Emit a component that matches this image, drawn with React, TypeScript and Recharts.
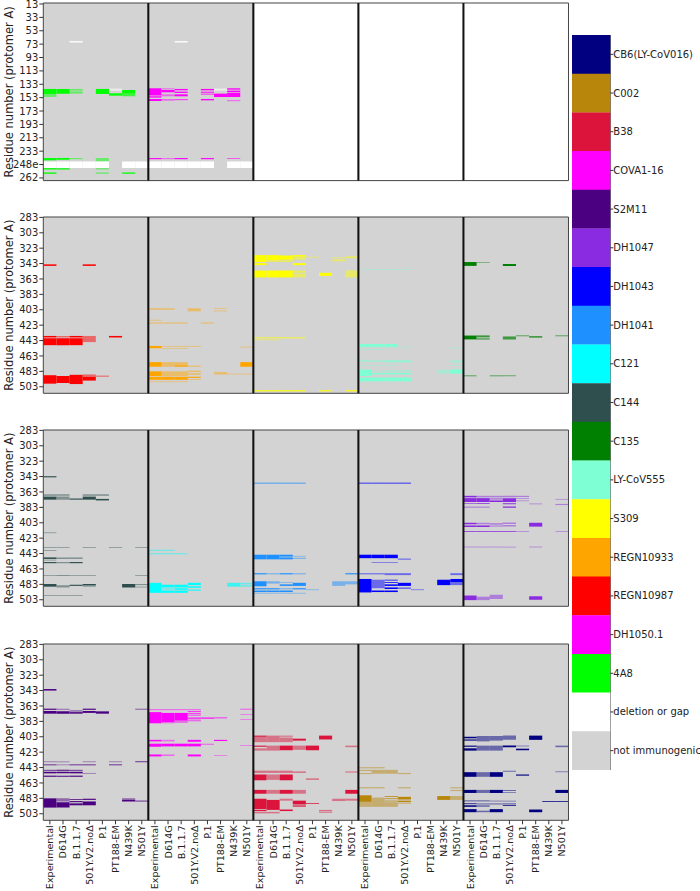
import React from 'react';
import { ComposedChart, BarChart, Bar, Cell, XAxis, YAxis, ReferenceArea, ReferenceLine } from 'recharts';

const FONT = '"DejaVu Sans", sans-serif';

const VARIANTS = ['Experimental', 'D614G', 'B.1.1.7', '501Y.V2.noΔ', 'P.1', 'PT188-EM', 'N439K', 'N501Y'];

// NTD rows are indexed by position; labels follow the protomer numbering
const NTD_TICKS = [13, 33, 53, 73, 93, 113, 133, 153, 173, 193, 213, 233, 253, 273];
const NTD_TICK_LABELS = ['13', '33', '53', '73', '93', '113', '133', '153', '173', '193', '213', '233', '248e', '262'];
const RBD_TICKS = [283, 303, 323, 343, 363, 383, 403, 423, 443, 463, 483, 503];

const LEGEND_NAMES = ['CB6(LY-CoV016)', 'C002', 'B38', 'COVA1-16', 'S2M11', 'DH1047', 'DH1043', 'DH1041', 'C121', 'C144', 'C135', 'LY-CoV555', 'S309', 'REGN10933', 'REGN10987', 'DH1050.1', '4A8', 'deletion or gap', 'not immunogenic'];
const LEGEND_COLORS = ['#000080', '#b8860b', '#dc143c', '#ff00ff', '#4b0082', '#8a2be2', '#0000ff', '#1e90ff', '#00ffff', '#2f4f4f', '#008000', '#7fffd4', '#ffff00', '#ffa500', '#ff0000', '#ff00ff', '#00ff00', '#ffffff', '#d3d3d3'];

// [variant column, from residue, to residue, level]
const GAP_NTD = [
  [2, 68.5, 70.5, 1], [0, 248.4, 258.2, 1], [1, 248.4, 258.2, 1], [2, 248.4, 258.2, 1], [3, 248.4, 258.2, 1],
  [4, 248.4, 258.2, 1], [6, 248.4, 258.2, 1], [7, 248.4, 258.2, 1], [5, 139.5, 142.5, 0.6],
];

const SEG_4A8 = [
  [0, 140, 147.5, 1], [0, 147.5, 152, 0.5], [0, 243.3, 246.7, 1], [0, 258.4, 260.4, 1], [0, 264.8, 266.8, 1],
  [1, 140, 147, 1], [1, 243.3, 246, 1], [1, 258.4, 260.4, 1],
  [2, 140, 142.5, 0.5], [2, 143.5, 147, 0.5], [2, 243.3, 245, 0.5],
  [4, 140, 147.5, 1], [4, 243.3, 248.3, 0.5], [4, 258.4, 260.4, 0.5], [4, 264.8, 266.8, 0.5],
  [5, 146.5, 150, 1],
  [6, 141.5, 147, 1], [6, 147.5, 151, 0.7], [6, 265, 266.8, 1],
];

const SEG_DH1050 = [
  [0, 139, 149, 1], [0, 149, 151, 0.5], [0, 151, 153, 1], [0, 155, 158, 1], [0, 243.3, 245, 1],
  [1, 139, 140.5, 0.5], [1, 141.5, 145, 1], [1, 148, 151, 0.5], [1, 155, 157.5, 0.5], [1, 243.3, 245, 0.5],
  [2, 140, 142, 1], [2, 144, 146, 1], [2, 148, 151, 1], [2, 155.5, 156.7, 1], [2, 243.3, 245, 1],
  [4, 140, 142, 1], [4, 143, 144, 0.5], [4, 145, 146.5, 1], [4, 147.5, 149, 0.5], [4, 155, 157, 1], [4, 243.3, 245, 1],
  [5, 147, 152, 1],
  [6, 139, 141, 1], [6, 142.5, 145, 1], [6, 146, 152, 1], [6, 157, 158.2, 0.7], [6, 243.3, 244.5, 0.7],
];

const SEG_REGN10987 = [
  [0, 344, 346, 1], [0, 437, 439, 1], [0, 440, 449, 1], [0, 488, 499, 1],
  [1, 437, 439, 0.5], [1, 440, 449, 1], [1, 489, 498, 1],
  [2, 437, 439, 1], [2, 440, 449, 1], [2, 487.5, 499.5, 1],
  [3, 344, 346, 1], [3, 437, 445, 0.5], [3, 487, 490, 0.5], [3, 490, 495, 1],
  [4, 488.5, 490, 0.5],
  [5, 437, 439, 1],
];

const SEG_REGN10933 = [
  [0, 401, 403, 0.5], [0, 416, 417, 0.5], [0, 419.5, 421, 0.5], [0, 450, 453, 1], [0, 471, 477, 1], [0, 483, 489, 1], [0, 490, 494, 1], [0, 496, 497, 0.5],
  [1, 401, 403, 0.5], [1, 419.5, 421, 0.5], [1, 450, 451, 0.5], [1, 453, 454, 0.5], [1, 471, 477, 0.5], [1, 483, 489, 0.5], [1, 490, 494, 1], [1, 496, 497, 0.5],
  [2, 419.5, 421, 0.5], [2, 450, 451, 0.5], [2, 453, 454, 0.5], [2, 471, 475, 0.5], [2, 475, 477, 1], [2, 483, 489, 0.5], [2, 490, 494, 1], [2, 496, 497, 0.5],
  [3, 401, 405, 0.5], [3, 450, 451, 0.5], [3, 475.5, 477, 0.5], [3, 482, 484, 0.5], [3, 486, 487, 1], [3, 490, 491.5, 1], [3, 493, 494, 0.5],
  [4, 419.5, 421, 0.5],
  [5, 401, 402, 0.5], [5, 404, 405, 0.5], [5, 484, 487, 0.5],
  [6, 486, 487, 0.5],
  [7, 451, 452, 0.5], [7, 471, 477, 1], [7, 486, 487, 0.5],
];

const SEG_S309 = [
  [0, 332, 341, 1], [0, 342.5, 345, 1], [0, 352, 361, 1], [0, 439, 440, 1], [0, 441.5, 442.5, 0.5], [0, 507.5, 509, 1],
  [1, 332, 339, 1], [1, 339.5, 341, 0.5], [1, 352, 361, 1], [1, 439, 440, 1], [1, 441.5, 442.5, 0.5], [1, 507.5, 509, 1],
  [2, 332.5, 338, 1], [2, 338.5, 341, 0.5], [2, 352, 361, 1], [2, 439, 440, 1], [2, 507.5, 509, 1],
  [3, 332, 334, 1], [3, 334.5, 338, 0.5], [3, 342.5, 345, 1], [3, 352, 355, 0.5], [3, 356, 361, 0.5], [3, 439, 440, 1], [3, 507.5, 509, 1],
  [4, 334, 335, 0.5],
  [5, 355, 359, 1], [5, 507.5, 509, 1],
  [6, 335, 336, 0.5], [6, 337.5, 340, 0.5],
  [7, 333.5, 336, 0.5], [7, 352, 361, 0.5], [7, 507.5, 509, 1],
];

const SEG_LYCOV555 = [
  [0, 350, 351, 0.5], [0, 447.5, 451, 1], [0, 451, 452, 0.5], [0, 454, 455, 0.5], [0, 468, 471, 0.5], [0, 475, 476, 0.5], [0, 480.5, 489, 1], [0, 491, 496, 1],
  [1, 350, 351, 0.5], [1, 447.5, 451, 1], [1, 451, 452, 0.5], [1, 454, 455, 0.5], [1, 468.5, 471, 0.5], [1, 475, 476, 0.5], [1, 482, 483, 0.5], [1, 485, 487, 1], [1, 491, 496, 1],
  [2, 350, 351, 0.5], [2, 447.5, 451, 1], [2, 451, 452, 0.5], [2, 468.5, 471.5, 0.7], [2, 475, 476, 0.5], [2, 482, 483, 1], [2, 485, 487, 1], [2, 491, 496, 1],
  [3, 350, 351, 0.5], [3, 451, 452, 0.5], [3, 468.5, 471.5, 0.7], [3, 482, 483, 1], [3, 485, 487, 1], [3, 491, 496, 1],
  [6, 481, 486, 0.5],
  [7, 452, 453, 0.5], [7, 468.5, 471.5, 0.5], [7, 475, 476, 0.5], [7, 480.5, 486, 1],
];

const SEG_C135 = [
  [0, 341, 346, 1], [0, 436.5, 441.5, 1], [0, 488, 489.5, 0.5],
  [1, 341, 342, 0.5], [1, 436.5, 438, 1], [1, 439, 440, 0.5], [1, 440.5, 441.5, 1],
  [2, 488, 489.5, 0.5],
  [3, 343.5, 346, 1], [3, 437, 438, 0.5], [3, 438.5, 441.5, 0.7], [3, 488, 489.5, 0.5],
  [4, 436, 437.5, 0.5],
  [5, 437.5, 439, 1],
  [7, 436, 437.5, 0.5],
];

const SEG_C144 = [
  [0, 342.5, 344, 1], [0, 366, 368, 0.5], [0, 369, 373, 1], [0, 415.5, 416.5, 0.5], [0, 434.5, 435.5, 0.5], [0, 438.5, 439.5, 0.5], [0, 448, 450, 1], [0, 451, 452, 0.5], [0, 454, 455.5, 1], [0, 471, 472, 0.5], [0, 482.5, 486, 1], [0, 497, 498, 0.5],
  [1, 366, 368, 0.5], [1, 369, 373, 0.5], [1, 434.5, 435.5, 0.5], [1, 448, 450, 0.5], [1, 454, 455.5, 0.5], [1, 471, 472, 0.5], [1, 484, 487, 0.5], [1, 497, 498, 0.5],
  [2, 371.5, 373, 1], [2, 448, 450, 0.5], [2, 454, 455.5, 1], [2, 471, 472, 0.5], [2, 483.5, 485, 1], [2, 497, 498, 0.5],
  [3, 366, 368, 0.5], [3, 369, 373, 1], [3, 434.5, 435.5, 0.5], [3, 471, 472, 0.5], [3, 482.5, 484.5, 1], [3, 485, 486, 0.5],
  [4, 366, 368, 0.5], [4, 372, 374, 1],
  [5, 434.5, 435.5, 0.5],
  [6, 482.5, 487, 1],
  [7, 434.5, 435.5, 0.5], [7, 471, 472, 0.5], [7, 482.5, 484, 0.5], [7, 486, 487, 0.5],
];

const SEG_C121 = [
  [0, 438, 439.5, 0.5], [0, 442.5, 444, 0.5], [0, 481, 494, 1],
  [1, 438, 439.5, 0.5], [1, 442.5, 444, 0.5], [1, 483.5, 487, 1], [1, 488, 490, 0.5], [1, 491, 494, 1],
  [2, 442.5, 444, 0.5], [2, 483.5, 487, 1], [2, 488, 490, 1], [2, 491, 494, 1],
  [3, 481, 484, 1], [3, 485.5, 487.5, 1], [3, 489.5, 491.5, 0.7],
  [6, 481, 486, 0.7],
  [7, 481, 483, 0.5], [7, 484, 486, 0.5],
];

const SEG_DH1041 = [
  [0, 351, 352, 1], [0, 444.5, 450.5, 1], [0, 468.5, 470, 1], [0, 479, 485.5, 1], [0, 488, 489.5, 1], [0, 491, 493, 1], [0, 494, 495, 0.5],
  [1, 351, 352, 1], [1, 444.5, 450.5, 1], [1, 468.5, 470, 0.5], [1, 479, 482, 0.5], [1, 488, 489.5, 1], [1, 491, 493, 1], [1, 494, 495, 0.5],
  [2, 351, 352, 1], [2, 444.5, 447, 1], [2, 448, 450.5, 1], [2, 468.5, 470, 1], [2, 480, 481, 0.5], [2, 483, 485, 1], [2, 488, 489.5, 0.5], [2, 491, 493, 1], [2, 494, 495, 0.5],
  [3, 351, 352, 1], [3, 446, 447, 0.5], [3, 448.5, 450, 0.5], [3, 468.5, 470, 0.5], [3, 481, 485, 1], [3, 488, 489.5, 1], [3, 494, 495, 0.5],
  [4, 489.5, 490.5, 0.5],
  [6, 479, 485, 0.5],
  [7, 468.5, 470, 1], [7, 479, 483, 0.5],
];

const SEG_DH1043 = [
  [0, 351, 352, 1], [0, 444.5, 449, 1], [0, 468.5, 470, 0.5], [0, 476, 493.5, 1],
  [1, 351, 352, 1], [1, 444.5, 449, 1], [1, 454, 455, 0.5], [1, 468.5, 470, 0.5], [1, 477, 488, 0.5], [1, 491, 493, 1],
  [2, 351, 352, 1], [2, 444.5, 449, 1], [2, 454, 455, 0.5], [2, 468.5, 471, 0.5], [2, 477, 478, 1], [2, 480, 481, 1], [2, 483, 485, 1], [2, 487, 489, 1], [2, 491, 493, 1],
  [3, 351, 352, 1], [3, 449.5, 451, 0.5], [3, 468.5, 471, 0.5], [3, 481, 485, 1], [3, 487, 489, 0.5],
  [4, 489.5, 490.5, 0.5],
  [6, 477, 484, 1],
  [7, 468.5, 471, 0.5], [7, 476, 480, 1], [7, 480, 484, 0.5],
];

const SEG_DH1047 = [
  [0, 368, 370, 1], [0, 371, 376, 1], [0, 377.5, 378.5, 0.8], [0, 382, 383.5, 0.5], [0, 403, 405, 1], [0, 406.5, 408.5, 1], [0, 414, 415, 1], [0, 434, 435, 0.5], [0, 497.5, 503.5, 1],
  [1, 368, 370, 0.5], [1, 371, 376, 1], [1, 377.5, 378.5, 1], [1, 382, 383.5, 0.5], [1, 403, 405, 0.5], [1, 406.5, 408.5, 1], [1, 414, 415, 1], [1, 434, 435, 0.5], [1, 499, 503.5, 0.5],
  [2, 368, 370, 0.5], [2, 371, 373, 0.5], [2, 374, 376, 1], [2, 403.5, 405.5, 0.5], [2, 406.5, 408, 0.5], [2, 414, 415, 1], [2, 434, 435, 0.5], [2, 496.5, 502, 0.5],
  [3, 368, 370, 0.5], [3, 371, 376, 1], [3, 377.5, 379, 1], [3, 382, 383.5, 1], [3, 403, 404, 1], [3, 406, 408, 0.5], [3, 414, 415, 1], [3, 434, 435, 0.5],
  [4, 368, 369.5, 0.5], [4, 371, 372, 0.5], [4, 374, 375, 0.5], [4, 414, 415, 0.5],
  [5, 378, 379, 0.5], [5, 403, 408, 1], [5, 434, 435, 0.5], [5, 498.5, 503, 1],
  [7, 372, 373, 0.5], [7, 378.5, 380, 0.5], [7, 414, 415, 0.5],
];

const SEG_S2M11 = [
  [0, 341, 343, 1], [0, 366.5, 368, 1], [0, 369.5, 373, 1], [0, 435, 436, 0.5], [0, 439, 440, 1], [0, 446, 447, 1], [0, 448.5, 450.5, 1], [0, 453.5, 455, 1], [0, 483, 495, 1],
  [1, 366.5, 368, 0.5], [1, 370, 373, 1], [1, 435, 436, 0.5], [1, 439, 440, 0.5], [1, 446, 447, 1], [1, 448.5, 450.5, 1], [1, 453.5, 455, 1], [1, 483, 487, 0.5], [1, 488, 495, 1],
  [2, 369, 370, 1], [2, 371, 373, 1], [2, 439, 440, 1], [2, 446, 447, 1], [2, 448.5, 450.5, 1], [2, 453.5, 455, 1], [2, 484, 485, 1], [2, 486.5, 488, 1], [2, 489.5, 492, 1],
  [3, 366.5, 368, 1], [3, 369.5, 372, 1], [3, 435, 436, 0.5], [3, 439, 440, 1], [3, 450, 451, 0.5], [3, 483.5, 485, 1], [3, 487, 492, 1],
  [4, 370, 373, 1],
  [5, 435, 436, 0.5], [5, 439, 440, 1],
  [6, 483, 485, 0.5], [6, 485, 487, 1],
  [7, 366.5, 368, 0.5], [7, 435, 436, 1], [7, 486, 487, 1],
];

const SEG_COVA116 = [
  [0, 367, 368.5, 0.5], [0, 371, 385.5, 1], [0, 407, 409, 1], [0, 412, 416, 1], [0, 426, 428.5, 1],
  [1, 367, 368.5, 0.5], [1, 372, 384, 1], [1, 384, 385.5, 0.5], [1, 407, 409, 0.5], [1, 412, 415.5, 1], [1, 426, 428, 0.5],
  [2, 367, 368.5, 0.5], [2, 372, 382, 1], [2, 382, 385, 0.5], [2, 412, 415.5, 1],
  [3, 367, 368.5, 0.5], [3, 369.5, 370.5, 1], [3, 372, 373, 1], [3, 374, 376, 0.5], [3, 378, 379.5, 1], [3, 380.5, 383, 0.5], [3, 407, 409.5, 1], [3, 412, 415.5, 1], [3, 426, 428.5, 1],
  [4, 378, 379.5, 1], [4, 412, 413.5, 0.5],
  [5, 378, 379, 1], [5, 407, 408.5, 1], [5, 427, 428, 0.5],
  [7, 366.5, 368, 0.5], [7, 373.5, 374.5, 0.5], [7, 380, 381, 0.5], [7, 414, 415, 0.5],
];

const SEG_B38 = [
  [0, 401.5, 403, 1], [0, 403, 410, 0.5], [0, 414.5, 416, 1], [0, 418, 421, 0.5], [0, 447, 450, 0.5], [0, 452, 459.5, 1], [0, 472, 477, 1], [0, 483.5, 497, 1], [0, 498, 499.5, 1], [0, 500.5, 502.5, 0.5],
  [1, 401.5, 410, 0.5], [1, 414.5, 421, 0.5], [1, 447, 450, 0.5], [1, 452, 459, 0.5], [1, 472, 477, 0.5], [1, 485, 498, 1], [1, 500.5, 502.5, 0.5],
  [2, 401.5, 403, 0.5], [2, 404, 410, 0.5], [2, 414.5, 420.5, 1], [2, 447, 450, 0.5], [2, 452, 459.5, 1], [2, 472, 477, 1], [2, 483.5, 486, 0.5], [2, 497.5, 499.5, 1],
  [3, 405.5, 408, 1], [3, 414.5, 420, 0.5], [3, 448, 450, 0.5], [3, 472, 477, 0.5], [3, 486, 491, 1], [3, 492, 494, 0.8],
  [4, 414.5, 420.5, 1], [4, 457, 459, 0.5], [4, 489, 490, 1],
  [5, 401.5, 406.5, 1], [5, 498, 500, 0.5], [5, 501, 502, 0.5],
  [6, 483.5, 486.5, 0.5],
  [7, 414.5, 416.5, 0.5], [7, 448, 449.5, 0.5], [7, 472, 477, 1], [7, 483.5, 486, 0.5],
];

const SEG_C002 = [
  [0, 442.5, 444, 0.5], [0, 446, 447.5, 0.5], [0, 450, 451.5, 0.5], [0, 468.5, 470, 0.5], [0, 479, 487.5, 1], [0, 487.5, 494, 0.5],
  [1, 442.5, 444, 0.5], [1, 446, 451, 0.5], [1, 468.5, 470, 0.5], [1, 482, 494, 0.5],
  [2, 446, 451, 0.5], [2, 480, 481, 1], [2, 483, 484, 1], [2, 486, 487, 1], [2, 488, 494, 0.5],
  [3, 450, 451.5, 0.5], [3, 468.5, 470, 0.5], [3, 481, 484.5, 1], [3, 486, 488, 1], [3, 489, 490, 0.5],
  [6, 480, 485, 1],
  [7, 468.5, 470, 0.5], [7, 472, 473.5, 0.5], [7, 480, 485, 0.5],
];

const SEG_CB6 = [
  [0, 403, 405, 1], [0, 406.5, 408, 1], [0, 414.5, 416, 1], [0, 418, 421, 1], [0, 449, 455, 1], [0, 472, 476, 1], [0, 485.5, 487, 0.5], [0, 489.5, 490.5, 1], [0, 492, 494, 1], [0, 497, 501, 1],
  [1, 402, 409, 0.5], [1, 414.5, 421, 0.5], [1, 449, 455, 0.5], [1, 472, 476, 0.5], [1, 485.5, 487, 0.5], [1, 489.5, 491, 0.5], [1, 492, 494, 0.5], [1, 499, 501, 0.5],
  [2, 402, 408, 0.5], [2, 414.5, 421, 0.5], [2, 449, 455, 1], [2, 472, 476, 1], [2, 486, 487, 0.5], [2, 489.5, 491, 0.5], [2, 497, 501, 1],
  [3, 401.5, 407, 0.5], [3, 414.5, 416.5, 1], [3, 447, 448.5, 0.5], [3, 472, 473.5, 0.5], [3, 475, 476, 0.5], [3, 486, 487, 0.5], [3, 489.5, 491, 0.5], [3, 492, 493, 1],
  [4, 414.5, 415.5, 0.5], [4, 418.5, 420.5, 1], [4, 452, 453.5, 1],
  [5, 401.5, 407, 1], [5, 497.5, 501, 1],
  [6, 486.5, 487.5, 1],
  [7, 414.5, 416.5, 0.5], [7, 448, 449, 0.5], [7, 472, 476, 1], [7, 486.5, 487.5, 1],
];

const colorOf = (name: string) => LEGEND_COLORS[LEGEND_NAMES.indexOf(name)];

const ROWS = [
  {
    top: 3.3, bottom: 180.9, domain: [11.5, 277], ticks: NTD_TICKS, labels: NTD_TICK_LABELS,
    panels: [
      { name: '4A8', segs: SEG_4A8, gaps: GAP_NTD },
      { name: 'DH1050.1', segs: SEG_DH1050, gaps: GAP_NTD },
      null, null, null,
    ],
  },
  {
    top: 216.9, bottom: 393.2, domain: [282.5, 511.5], ticks: RBD_TICKS, labels: null,
    panels: [
      { name: 'REGN10987', segs: SEG_REGN10987 },
      { name: 'REGN10933', segs: SEG_REGN10933 },
      { name: 'S309', segs: SEG_S309 },
      { name: 'LY-CoV555', segs: SEG_LYCOV555 },
      { name: 'C135', segs: SEG_C135 },
    ],
  },
  {
    top: 430.3, bottom: 606.6, domain: [282.5, 511.5], ticks: RBD_TICKS, labels: null,
    panels: [
      { name: 'C144', segs: SEG_C144 },
      { name: 'C121', segs: SEG_C121 },
      { name: 'DH1041', segs: SEG_DH1041 },
      { name: 'DH1043', segs: SEG_DH1043 },
      { name: 'DH1047', segs: SEG_DH1047 },
    ],
  },
  {
    top: 643.6, bottom: 819.9, domain: [282.5, 511.5], ticks: RBD_TICKS, labels: null,
    panels: [
      { name: 'S2M11', segs: SEG_S2M11 },
      { name: 'COVA1-16', segs: SEG_COVA116 },
      { name: 'B38', segs: SEG_B38 },
      { name: 'C002', segs: SEG_C002 },
      { name: 'CB6(LY-CoV016)', segs: SEG_CB6 },
    ],
  },
];

const X_TICKS = Array.from({ length: 40 }, (_, i) => i + 0.5);

const VariantTick = (props: any) => {
  const { x, y, payload } = props;
  const label = VARIANTS[Math.floor(payload.value) % 8];
  return (
    <text x={x} y={y} transform={`rotate(-90 ${x} ${y})`} textAnchor="end" dominantBaseline="central"
      fontSize={9.6} fontFamily={FONT} fill="#222">{label}</text>
  );
};

const LegendTick = (props: any) => {
  const { x, y, payload } = props;
  return (
    <text x={x} y={y} textAnchor="start" dominantBaseline="central"
      fontSize={10} fontFamily={FONT} fill="#222">{payload.value}</text>
  );
};

const AxisTitle = ({ cy }: any) => (
  <text x={9} y={cy} transform={`rotate(-90 9 ${cy})`} textAnchor="middle" dominantBaseline="central"
    fontSize={11.5} fontFamily={FONT} fill="#222">Residue number (protomer A)</text>
);

function PanelRow({ row, showLabels }: any) {
  const mt = 5;
  const xh = showLabels ? 72 : 8;
  const plotH = row.bottom - row.top;
  const height = mt + plotH + xh;
  const fmt = (v: number) => {
    const i = row.ticks.indexOf(v);
    return row.labels ? row.labels[i] : String(v);
  };
  const rects: any[] = [];
  row.panels.forEach((p: any, pi: number) => {
    if (!p) return;
    rects.push(
      <ReferenceArea key={`bg${pi}`} x1={pi * 8} x2={pi * 8 + 8} y1={row.domain[0]} y2={row.domain[1]}
        fill="#d3d3d3" fillOpacity={1} stroke="none" />
    );
  });
  row.panels.forEach((p: any, pi: number) => {
    if (!p) return;
    const color = colorOf(p.name);
    p.segs.forEach((s: number[], si: number) => {
      rects.push(
        <ReferenceArea key={`s${pi}-${si}`} x1={pi * 8 + s[0]} x2={pi * 8 + s[0] + 1} y1={s[1]} y2={s[2]}
          fill={color} fillOpacity={s[3]} stroke="none" />
      );
    });
    (p.gaps || []).forEach((s: number[], si: number) => {
      rects.push(
        <ReferenceArea key={`g${pi}-${si}`} x1={pi * 8 + s[0]} x2={pi * 8 + s[0] + 1} y1={s[1]} y2={s[2]}
          fill="#ffffff" fillOpacity={s[3]} stroke="none" />
      );
    });
  });
  [0, 1, 2, 3, 4].forEach((pi) => {
    rects.push(
      <ReferenceArea key={`f${pi}`} x1={pi * 8} x2={pi * 8 + 8} y1={row.domain[0]} y2={row.domain[1]}
        fill="none" stroke="#444" strokeWidth={1} />
    );
  });
  return (
    <div style={{ position: 'absolute', left: 0, top: row.top - mt }}>
      <ComposedChart width={700} height={height} margin={{ top: mt, right: 131.5, bottom: 0, left: 0 }}>
        <XAxis type="number" dataKey="x" domain={[0, 40]} allowDataOverflow ticks={X_TICKS} interval={0}
          axisLine={false} tickSize={4} tickMargin={1} tickLine={{ stroke: '#333' }} height={xh}
          tick={showLabels ? <VariantTick /> : false} />
        <YAxis type="number" dataKey="y" domain={row.domain} allowDataOverflow reversed ticks={row.ticks} interval={0}
          width={43.3} axisLine={false} tickSize={4} tickMargin={1} tickLine={{ stroke: '#333' }}
          tickFormatter={fmt} tick={{ fontSize: 10, fill: '#222', fontFamily: FONT }}
          label={<AxisTitle cy={mt + plotH / 2} />} />
        {rects}
        {[8, 16, 24, 32].map((x) => (
          <ReferenceLine key={`d${x}`} x={x} stroke="#111" strokeWidth={2} />
        ))}
      </ComposedChart>
    </div>
  );
}

const LEGEND = LEGEND_NAMES.map((name) => ({ name, v: 1 }));

function ColorBar() {
  return (
    <div style={{ position: 'absolute', left: 571.7, top: 35 }}>
      <BarChart layout="vertical" width={128.3} height={735} data={LEGEND} barCategoryGap={0}
        margin={{ top: 0, right: 0, bottom: 0, left: 0 }}>
        <XAxis type="number" domain={[0, 1]} hide />
        <YAxis type="category" dataKey="name" orientation="right" width={90} interval={0}
          axisLine={false} tickSize={3} tickMargin={0} tickLine={{ stroke: '#333' }}
          tick={<LegendTick />} />
        <Bar dataKey="v" isAnimationActive={false}>
          {LEGEND.map((d, i) => <Cell key={d.name} fill={LEGEND_COLORS[i]} />)}
        </Bar>
        <ReferenceArea x1={0} x2={1} y1={LEGEND_NAMES[0]} y2={LEGEND_NAMES[LEGEND_NAMES.length - 1]}
          fill="none" stroke="#555" strokeWidth={1} />
      </BarChart>
    </div>
  );
}

export default function App() {
  return (
    <div style={{ position: 'absolute', left: 0, top: 0, width: 700, height: 891, background: '#fff', fontFamily: FONT }}>
      {ROWS.map((row, i) => (
        <PanelRow key={i} row={row} showLabels={i === ROWS.length - 1} />
      ))}
      <ColorBar />
    </div>
  );
}
